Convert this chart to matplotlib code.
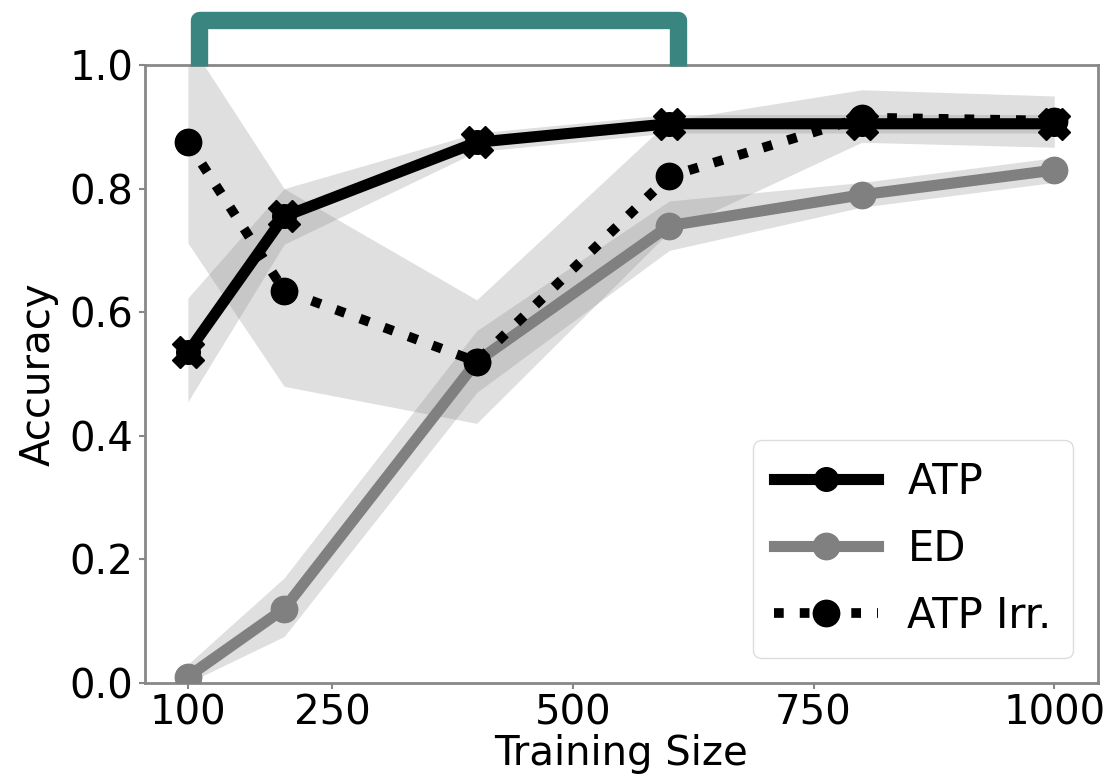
import matplotlib.pyplot as plt
from matplotlib.lines import Line2D

# tamanhos de treino
tamanhos = [100, 200, 400, 600, 800, 1000]

# acuracia media de cada metodo
atp = [0.535, 0.755, 0.875, 0.905, 0.905, 0.905]
ed = [0.01, 0.12, 0.52, 0.74, 0.79, 0.83]
atp_irr = [0.875, 0.635, 0.52, 0.82, 0.915, 0.91]

# faixas (min / max)
atp_inf = [0.455, 0.71, 0.86, 0.89, 0.89, 0.89]
atp_sup = [0.623, 0.80, 0.89, 0.92, 0.92, 0.92]
ed_inf = [0.0, 0.075, 0.47, 0.70, 0.77, 0.81]
ed_sup = [0.03, 0.17, 0.57, 0.78, 0.81, 0.85]
irr_inf = [0.712, 0.48, 0.42, 0.73, 0.875, 0.867]
irr_sup = [1.04, 0.80, 0.62, 0.91, 0.96, 0.95]

fig = plt.figure(figsize=(11.12, 7.84), dpi=100)
ax = fig.add_axes([0.130, 0.129, 0.857, 0.788])

# bandas cinzas
ax.fill_between(tamanhos, atp_inf, atp_sup, color='gray', alpha=0.25, lw=0)
ax.fill_between(tamanhos, ed_inf, ed_sup, color='gray', alpha=0.25, lw=0)
ax.fill_between(tamanhos, irr_inf, irr_sup, color='gray', alpha=0.25, lw=0)

# linhas
ax.plot(tamanhos, ed, color='#808080', lw=8, marker='o', markersize=19,
        label='ED', zorder=3)
ax.plot(tamanhos, atp, color='black', lw=8, marker='o', markersize=17,
        label='ATP', zorder=4)
ax.plot(tamanhos, atp, color='black', lw=0, marker='X', markersize=23,
        zorder=4)
ax.plot(tamanhos, atp_irr, color='black', lw=7, ls=':', marker='o',
        markersize=19, label='ATP Irr.', zorder=5)

ax.set_ylim(0, 1.0)
ax.set_xlim(55, 1045)
ax.set_xticks([100, 250, 500, 750, 1000])
ax.set_yticks([0.0, 0.2, 0.4, 0.6, 0.8, 1.0])
ax.tick_params(labelsize=29, color='#888888', length=4, width=1.5, pad=4)
ax.set_xlabel('Training Size', fontsize=29, labelpad=0)
ax.set_ylabel('Accuracy', fontsize=29, labelpad=8)
for s in ax.spines.values():
    s.set_color('#888888')
    s.set_linewidth(2)

handles, labels = ax.get_legend_handles_labels()
ordem = [1, 0, 2]
ax.legend([handles[i] for i in ordem], [labels[i] for i in ordem],
          loc='lower right', fontsize=30, handlelength=2.5,
          handletextpad=0.7, labelspacing=0.6, borderpad=0.5,
          borderaxespad=0.6, framealpha=1, edgecolor='#dddddd')

# colchete verde no topo
fig.add_artist(Line2D([0.179, 0.179, 0.610, 0.610],
                      [0.916, 0.974, 0.974, 0.916],
                      transform=fig.transFigure, color='#3a8580', lw=12.5,
                      solid_joinstyle='round', solid_capstyle='butt'))

plt.savefig('out.png', dpi=100)
